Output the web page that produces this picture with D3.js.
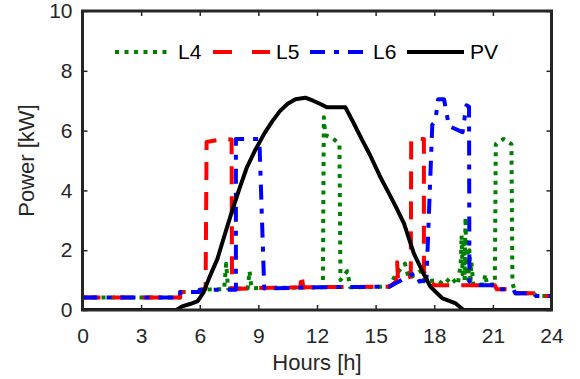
<!DOCTYPE html>
<html>
<head>
<meta charset="utf-8">
<script src="https://cdn.jsdelivr.net/npm/d3@7"></script>
<style>
  body { margin: 0; background: #fff; }
  svg text { font-family: "Liberation Sans", Arial, Helvetica, sans-serif; }
</style>
</head>
<body>
<div id="chart"></div>
<script>
// load profiles: [hour, kW]
const l4Points = [
  [0, 0.42], [5.0, 0.42], [5.0, 0.6], [6.0, 0.6], [6.0, 0.68], [7.25, 0.7], [7.35, 1.55], [7.45, 0.72],
  [8.45, 0.72], [8.55, 1.3], [8.65, 0.73], [12.3, 0.76], [12.35, 6.45], [12.42, 5.85], [12.8, 5.75],
  [13.15, 5.55], [13.2, 1.0], [13.55, 1.3], [13.7, 0.76], [15.7, 0.78], [16.0, 1.15], [16.5, 1.55],
  [16.7, 1.05], [17.3, 1.3], [17.5, 0.95], [18.15, 1.0], [18.5, 0.85], [18.85, 1.1], [19.2, 0.85],
  [19.35, 1.5], [19.4, 2.5], [19.45, 1.2], [19.5, 2.2], [19.55, 1.0], [19.6, 3.1], [19.65, 1.3],
  [19.7, 2.4], [19.75, 1.0], [19.8, 2.0], [19.85, 0.9], [19.9, 1.6], [20.0, 0.85], [20.55, 0.85],
  [20.6, 1.2], [20.7, 0.85], [21.1, 0.85], [21.15, 5.55], [21.55, 5.72], [21.95, 5.55], [22.0, 0.9],
  [22.1, 0.69], [22.15, 0.56], [23.1, 0.56], [23.2, 0.47], [24, 0.47]
];
const l5Points = [
  [0, 0.42], [5.0, 0.42], [5.0, 0.6], [6.0, 0.6], [6.0, 0.68], [6.3, 0.7], [6.35, 5.62], [7.25, 5.72],
  [7.63, 5.7], [7.65, 0.7], [9.3, 0.74], [11.15, 0.76], [11.2, 1.2], [11.3, 0.76], [15.7, 0.78],
  [16.05, 0.95], [16.1, 1.6], [16.15, 1.0], [16.8, 1.12], [16.82, 5.72], [17.47, 5.72], [17.47, 1.3],
  [17.6, 1.1], [18.0, 0.83], [21.1, 0.83], [21.2, 0.69], [22.05, 0.69], [22.15, 0.56], [23.1, 0.56],
  [23.2, 0.47], [24, 0.47]
];
const l6Points = [
  [0, 0.42], [5.0, 0.42], [5.0, 0.6], [5.95, 0.6], [6.0, 0.67], [7.85, 0.68], [7.85, 5.72], [9.05, 5.72],
  [9.3, 0.72], [12, 0.76], [15.7, 0.78], [17.05, 1.25], [17.25, 0.95], [17.6, 1.0], [17.9, 6.2],
  [18.05, 6.3], [18.2, 7.05], [18.5, 7.05], [18.75, 6.15], [19.45, 5.95], [19.65, 6.85], [19.78, 6.8],
  [19.8, 0.95], [20.0, 0.83], [21.1, 0.83], [21.2, 0.69], [22.05, 0.69], [22.15, 0.56], [23.1, 0.56],
  [23.2, 0.47], [24, 0.47]
];
const pvPoints = [
  [0, 0], [4.8, 0], [5.1, 0.12], [5.5, 0.2], [5.9, 0.3], [6.2, 0.6], [6.5, 1.1], [6.9, 1.7], [7.2, 2.35],
  [7.6, 3.2], [8.0, 4.0], [8.4, 4.75], [8.8, 5.3], [9.3, 5.9], [9.7, 6.3], [10.1, 6.65], [10.5, 6.9],
  [10.9, 7.05], [11.4, 7.1], [11.8, 7.0], [12.2, 6.88], [12.5, 6.78], [13.45, 6.78], [13.9, 6.22],
  [14.3, 5.7], [14.7, 5.2], [15.2, 4.5], [15.6, 4.0], [16.0, 3.5], [16.45, 2.9], [16.95, 1.9],
  [17.4, 1.28], [17.8, 0.78], [18.4, 0.4], [19.1, 0.22], [19.5, 0], [24, 0]
];
const xTicks = [0, 3, 6, 9, 12, 15, 18, 21, 24];
const yTicks = [0, 2, 4, 6, 8, 10];

const series = [
  {name: "L4", data: l4Points, color: "#008000", dash: "4,5.5"},
  {name: "L5", data: l5Points, color: "#ff0000", dash: "18,12"},
  {name: "L6", data: l6Points, color: "#0000ff", dash: "15,9,5,9"},
  {name: "PV", data: pvPoints, color: "#000000", dash: null}
];

const W = 580, H = 379;
const plotLeft = 82.5, plotRight = 551.5, plotTop = 11, plotBottom = 310;
const axisColor = "#262626";

const svg = d3.select("#chart").append("svg")
  .attr("width", W).attr("height", H);

const x = d3.scaleLinear().domain([0, 24]).range([plotLeft, plotRight]);
const y = d3.scaleLinear().domain([0, 10]).range([plotBottom, plotTop]);

svg.append("clipPath").attr("id", "clip")
  .append("rect")
  .attr("x", plotLeft).attr("y", plotTop)
  .attr("width", plotRight - plotLeft).attr("height", plotBottom - plotTop);

const line = d3.line().x(d => x(d[0])).y(d => y(d[1]));

svg.append("g").attr("clip-path", "url(#clip)")
  .selectAll("path")
  .data(series)
  .join("path")
  .attr("d", d => line(d.data))
  .attr("fill", "none")
  .attr("stroke", d => d.color)
  .attr("stroke-width", 4)
  .attr("stroke-linejoin", "round")
  .attr("stroke-dasharray", d => d.dash);

// axes, ticks pointing inward
function styleAxis(g) {
  g.select(".domain").remove();
  g.selectAll(".tick line").attr("stroke", axisColor).attr("stroke-width", 1.5);
  g.selectAll(".tick text").attr("fill", axisColor).attr("font-size", 21);
}
svg.append("g").attr("transform", `translate(0,${plotBottom})`)
  .call(d3.axisBottom(x).tickValues(xTicks).tickSize(-5).tickPadding(18))
  .call(styleAxis);
svg.append("g").attr("transform", `translate(0,${plotTop})`)
  .call(d3.axisTop(x).tickValues(xTicks).tickSize(-5).tickFormat(""))
  .call(styleAxis);
svg.append("g").attr("transform", `translate(${plotLeft},0)`)
  .call(d3.axisLeft(y).tickValues(yTicks).tickSize(-5).tickPadding(10))
  .call(styleAxis);
svg.append("g").attr("transform", `translate(${plotRight},0)`)
  .call(d3.axisRight(y).tickValues(yTicks).tickSize(-5).tickFormat(""))
  .call(styleAxis);

svg.append("rect")
  .attr("x", plotLeft).attr("y", plotTop)
  .attr("width", plotRight - plotLeft).attr("height", plotBottom - plotTop)
  .attr("fill", "none").attr("stroke", axisColor).attr("stroke-width", 3);

svg.append("text")
  .attr("x", (plotLeft + plotRight) / 2).attr("y", 370)
  .attr("text-anchor", "middle").attr("font-size", 22).attr("fill", axisColor)
  .text("Hours [h]");
svg.append("text")
  .attr("transform", `translate(34,${(plotTop + plotBottom) / 2}) rotate(-90)`)
  .attr("text-anchor", "middle").attr("font-size", 22).attr("fill", axisColor)
  .text("Power [kW]");

// legend
const legendX = [115, 213, 310, 407];
const legend = svg.append("g")
  .selectAll("g")
  .data(series)
  .join("g")
  .attr("transform", (d, i) => `translate(${legendX[i]},52)`);
legend.append("line")
  .attr("x1", 0).attr("x2", 57).attr("y1", 0).attr("y2", 0)
  .attr("stroke", d => d.color).attr("stroke-width", 4)
  .attr("stroke-dasharray", d => d.name == "L5" ? "19,20" : d.dash);
legend.append("text")
  .attr("x", 63).attr("y", 0).attr("dy", "0.35em")
  .attr("font-size", 21).attr("fill", "#000")
  .text(d => d.name);
</script>
</body>
</html>
